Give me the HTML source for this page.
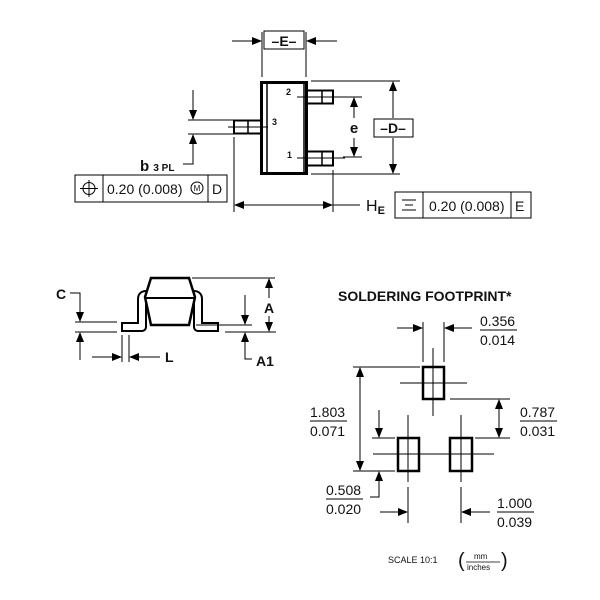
<!DOCTYPE html>
<html><head><style>html,body{margin:0;padding:0;background:#fff}svg{display:block}text{font-family:"Liberation Sans",sans-serif;fill:#111}</style></head><body>
<svg width="600" height="600" viewBox="0 0 600 600" xmlns="http://www.w3.org/2000/svg">
<defs>
<marker id="a" markerWidth="10" markerHeight="8" refX="9" refY="4" orient="auto" markerUnits="userSpaceOnUse"><path d="M0,0 L10,4 L0,8 z" fill="#000"/></marker>
</defs>
<g stroke="#000" stroke-width="1" fill="none">
<rect x="264" y="31" width="40" height="18"/>
<line x1="262" y1="32" x2="262" y2="77"/><line x1="306" y1="32" x2="306" y2="77"/>
<line x1="232" y1="41" x2="261" y2="41" marker-end="url(#a)"/>
<line x1="337" y1="41" x2="307" y2="41" marker-end="url(#a)"/>
<rect x="261.5" y="82.5" width="45" height="91" stroke-width="3"/>
<line x1="267" y1="82" x2="267" y2="174" stroke-width="1.5"/>
<line x1="304" y1="82" x2="304" y2="174" stroke-width="1.5"/>
<rect x="306" y="90.5" width="27" height="13" stroke-width="2"/><line x1="322" y1="90" x2="322" y2="104" stroke-width="1.5"/>
<rect x="306" y="151.5" width="27" height="14" stroke-width="2"/><line x1="322" y1="151" x2="322" y2="166" stroke-width="1.5"/>
<rect x="234" y="120.5" width="27" height="13" stroke-width="2"/><line x1="248" y1="120" x2="248" y2="134" stroke-width="1.5"/>
<line x1="297" y1="97" x2="345" y2="97"/><line x1="297" y1="158" x2="345" y2="158"/>
<line x1="228" y1="127" x2="268" y2="127"/>
<line x1="343" y1="97" x2="362" y2="97"/><line x1="343" y1="157" x2="362" y2="157"/>
<line x1="354" y1="118" x2="354" y2="98" marker-end="url(#a)"/>
<line x1="354" y1="138" x2="354" y2="156" marker-end="url(#a)"/>
<line x1="311" y1="81" x2="400" y2="81"/><line x1="311" y1="174" x2="400" y2="174"/>
<line x1="393" y1="118" x2="393" y2="82" marker-end="url(#a)"/>
<line x1="393" y1="138" x2="393" y2="173" marker-end="url(#a)"/>
<rect x="374" y="119" width="39" height="18"/>
<line x1="188" y1="120" x2="234" y2="120"/><line x1="188" y1="134" x2="234" y2="134"/>
<line x1="193" y1="90" x2="193" y2="119" marker-end="url(#a)"/>
<polyline points="183,164 193,164 193,135" marker-end="url(#a)"/>
<rect x="75" y="175" width="152" height="27"/>
<line x1="103" y1="175" x2="103" y2="202"/><line x1="208" y1="175" x2="208" y2="202"/>
<circle cx="89" cy="188.5" r="6"/><line x1="80" y1="188.5" x2="98" y2="188.5"/><line x1="89" y1="180" x2="89" y2="197"/>
<circle cx="197" cy="188" r="6"/>
<line x1="234" y1="137" x2="234" y2="212"/><line x1="333" y1="170" x2="333" y2="212"/>
<line x1="280" y1="205" x2="235" y2="205" marker-end="url(#a)"/>
<line x1="280" y1="205" x2="332" y2="205" marker-end="url(#a)"/>
<line x1="333" y1="205" x2="360" y2="205"/>
<rect x="395" y="192" width="136" height="26"/>
<line x1="423" y1="192" x2="423" y2="218"/><line x1="511" y1="192" x2="511" y2="218"/>
<line x1="402" y1="200" x2="416" y2="200"/><line x1="405" y1="205" x2="413" y2="205"/><line x1="402" y1="210" x2="416" y2="210"/>
<path d="M150,295 H146 Q142,295 142,299 V327 H121" stroke-width="10" stroke-linejoin="round"/>
<path d="M150,295 H146 Q142,295 142,299 V327 H123" stroke="#fff" stroke-width="6" stroke-linejoin="round"/>
<path d="M190,295 H194 Q198,295 198,299 V327 H219" stroke-width="10" stroke-linejoin="round"/>
<path d="M190,295 H194 Q198,295 198,299 V327 H217" stroke="#fff" stroke-width="6" stroke-linejoin="round"/>
<polygon points="151,278 189,278 195,297 189,325 151,325 145,297" fill="#fff" stroke-width="2.5"/>
<line x1="146" y1="298" x2="194" y2="298" stroke-width="2"/>
<line x1="75" y1="322" x2="117" y2="322"/><line x1="75" y1="332" x2="117" y2="332"/>
<polyline points="70,293 80,293 80,321" marker-end="url(#a)"/>
<line x1="80" y1="360" x2="80" y2="333" marker-end="url(#a)"/>
<line x1="122" y1="335" x2="122" y2="362"/><line x1="129" y1="335" x2="129" y2="362"/>
<line x1="92" y1="357" x2="121" y2="357" marker-end="url(#a)"/>
<line x1="160" y1="357" x2="130" y2="357" marker-end="url(#a)"/>
<line x1="192" y1="278" x2="275" y2="278"/><line x1="225" y1="332" x2="276" y2="332"/>
<line x1="269" y1="298" x2="269" y2="279" marker-end="url(#a)"/>
<line x1="269" y1="316" x2="269" y2="331" marker-end="url(#a)"/>
<line x1="196" y1="325" x2="252" y2="325"/>
<line x1="245" y1="295" x2="245" y2="324" marker-end="url(#a)"/>
<polyline points="252,359 245,359 245,333" marker-end="url(#a)"/>
<rect x="423" y="367" width="21" height="32" stroke-width="2.5"/>
<rect x="398" y="438" width="21" height="33" stroke-width="2.5"/>
<rect x="450" y="438" width="22" height="33" stroke-width="2.5"/>
<line x1="400" y1="383" x2="467" y2="383"/><line x1="433" y1="348" x2="433" y2="416"/>
<line x1="373" y1="454" x2="494" y2="454"/>
<line x1="408" y1="415" x2="408" y2="482"/><line x1="461" y1="415" x2="461" y2="482"/>
<line x1="408" y1="487" x2="408" y2="523"/><line x1="461" y1="487" x2="461" y2="523"/>
<line x1="423" y1="322" x2="423" y2="362"/><line x1="444" y1="322" x2="444" y2="362"/>
<line x1="397" y1="328" x2="422" y2="328" marker-end="url(#a)"/>
<line x1="472" y1="328" x2="445" y2="328" marker-end="url(#a)"/>
<line x1="353" y1="367" x2="420" y2="367"/><line x1="353" y1="471" x2="395" y2="471"/>
<line x1="360" y1="420" x2="360" y2="368" marker-end="url(#a)"/>
<line x1="360" y1="420" x2="360" y2="470" marker-end="url(#a)"/>
<line x1="450" y1="399" x2="510" y2="399"/><line x1="475" y1="438" x2="510" y2="438"/>
<line x1="499" y1="418" x2="499" y2="400" marker-end="url(#a)"/>
<line x1="499" y1="418" x2="499" y2="437" marker-end="url(#a)"/>
<line x1="372" y1="438" x2="395" y2="438"/>
<line x1="379" y1="410" x2="379" y2="437" marker-end="url(#a)"/>
<polyline points="370,497 379,497 379,472" marker-end="url(#a)"/>
<line x1="380" y1="512" x2="407" y2="512" marker-end="url(#a)"/>
<line x1="490" y1="512" x2="462" y2="512" marker-end="url(#a)"/>
<line x1="480" y1="330" x2="517" y2="330"/>
<line x1="310" y1="421" x2="347" y2="421"/>
<line x1="520" y1="421" x2="557" y2="421"/>
<line x1="326" y1="499" x2="363" y2="499"/>
<line x1="497" y1="512" x2="534" y2="512"/>
<line x1="466" y1="562" x2="500" y2="562" stroke-width="0.8"/>
</g>
<g font-size="14">
<text x="284" y="46" text-anchor="middle" font-weight="bold">–E–</text>
<text x="393" y="133" text-anchor="middle" font-weight="bold">–D–</text>
<text x="354" y="133" text-anchor="middle" font-weight="bold" font-size="15">e</text>
<text x="286" y="95" font-size="9" font-weight="bold">2</text>
<text x="272" y="125" font-size="9" font-weight="bold">3</text>
<text x="287" y="158" font-size="9" font-weight="bold">1</text>
<text x="140" y="171" font-weight="bold" font-size="15">b <tspan font-size="10">3 PL</tspan></text>
<text x="107" y="194">0.20 (0.008)</text>
<text x="197" y="191" font-size="8" text-anchor="middle">M</text>
<text x="212" y="194">D</text>
<text x="366" y="211" font-size="16">H<tspan font-size="11" font-weight="bold" dy="3">E</tspan></text>
<text x="429" y="211">0.20 (0.008)</text>
<text x="515" y="211">E</text>
<text x="56" y="299" font-weight="bold">C</text>
<text x="165" y="362" font-weight="bold">L</text>
<text x="264" y="313" font-weight="bold">A</text>
<text x="256" y="366" font-weight="bold">A1</text>
<text x="338" y="301" font-weight="bold">SOLDERING FOOTPRINT*</text>
<text x="480" y="326">0.356</text><text x="480" y="345">0.014</text>
<text x="310" y="417">1.803</text><text x="310" y="436">0.071</text>
<text x="520" y="417">0.787</text><text x="520" y="436">0.031</text>
<text x="326" y="495">0.508</text><text x="326" y="514">0.020</text>
<text x="497" y="508">1.000</text><text x="497" y="527">0.039</text>
<text x="388" y="563" font-size="9">SCALE 10:1</text>
<text x="474" y="559" font-size="8">mm</text>
<text x="467" y="570" font-size="8">inches</text>
<text x="458" y="567" font-size="20" font-weight="100">(</text>
<text x="501" y="567" font-size="20" font-weight="100">)</text>
</g>
</svg>
</body></html>
